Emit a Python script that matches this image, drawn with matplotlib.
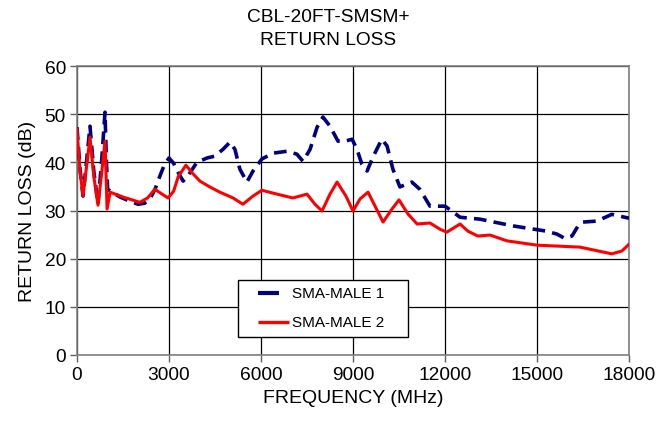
import matplotlib
matplotlib.use("Agg")
import matplotlib.pyplot as plt
from matplotlib.patches import Rectangle
from matplotlib.lines import Line2D

plt.rcParams['font.family'] = ['Liberation Sans', 'DejaVu Sans']

freq1 = [0, 100, 196, 300, 424, 550, 685, 800, 913, 960, 1000, 1400, 1700, 1990, 2200,
         2380, 2550, 2700, 2850, 3000, 3150, 3290, 3460, 3650, 3910, 4240, 4500, 4760,
         4990, 5150, 5310, 5540, 5740, 6030, 6390, 6850, 7170, 7370, 7600, 7830, 8020,
         8250, 8510, 8740, 8970, 9130, 9290, 9460, 9650, 9940, 10110, 10300, 10530,
         10920, 11180, 11510, 12000, 12260, 12490, 13140, 14220, 15320, 15650, 15910,
         16140, 16340, 16500, 16950, 17440, 18000]
rl1 = [47.3, 38.5, 33.0, 39.5, 47.5, 38.0, 31.3, 40.0, 50.4, 40.0, 34.4, 32.8, 32.0, 31.3, 31.5,
       32.4, 34.5, 37.1, 39.5, 40.9, 39.8, 38.0, 36.1, 37.5, 40.0, 40.9, 41.3, 42.7,
       44.2, 42.7, 38.6, 35.9, 38.2, 40.7, 41.9, 42.3, 41.7, 40.2, 42.7, 47.3, 49.4,
       47.5, 44.4, 44.4, 44.8, 42.7, 39.6, 38.2, 41.1, 44.8, 43.4, 38.6, 34.9,
       35.9, 34.4, 30.9, 30.9, 29.7, 28.6, 28.2, 26.8, 25.7, 25.1, 24.2,
       24.7, 26.8, 27.6, 27.8, 29.2, 28.4]

freq2 = [0, 100, 196, 300, 424, 550, 685, 800, 913, 950, 980, 1080, 1500, 2050, 2300,
         2540, 2750, 2970, 3150, 3300, 3550, 3800, 4010, 4300, 4660, 5090, 5410, 5740,
         6030, 6520, 7040, 7500, 7760, 7990, 8250, 8480, 8770, 9000, 9230, 9490, 9720,
         9980, 10270, 10500, 10790, 11090, 11510, 11840, 12060, 12490, 12750, 13070,
         13470, 14020, 15000, 16400, 17440, 17770, 18000]
rl2 = [46.9, 38.0, 33.0, 38.5, 45.2, 37.0, 31.1, 37.5, 44.4, 37.0, 30.3, 33.8, 32.8, 31.7, 32.6,
       34.4, 33.5, 32.6, 34.0, 37.0, 39.4, 37.5, 36.1, 35.0, 33.8, 32.6, 31.3, 33.0,
       34.2, 33.4, 32.6, 33.4, 31.3, 29.9, 33.4, 35.9, 33.0, 29.9, 32.4, 33.8, 30.9,
       27.6, 30.3, 32.2, 29.3, 27.2, 27.4, 26.1, 25.5, 27.2, 25.7, 24.7,
       24.9, 23.7, 22.8, 22.4, 21.0, 21.6, 23.0]

labels = ['SMA-MALE 1', 'SMA-MALE 2']
xticks = [0, 3000, 6000, 9000, 12000, 15000, 18000]
yticks = [0, 10, 20, 30, 40, 50, 60]

W, H = 669, 431
fig = plt.figure(figsize=(W/100, H/100), dpi=100)
ax = fig.add_axes([77/W, 1-356/H, (629-77)/W, (356-67)/H])

blue = '#000080'
red = '#ff0000'
ax.plot(freq1, rl1, color=blue, lw=2.6, linestyle=(0, (3.5, 2.0)),
        label=labels[0], dash_joinstyle='round', dash_capstyle='butt', zorder=3)
ax.plot(freq2, rl2, color=red, lw=2.2, label=labels[1],
        solid_joinstyle='round', zorder=3)

ax.set_xlim(0, 18000)
ax.set_ylim(0, 60)
ax.set_xticks(xticks)
ax.set_yticks(yticks)
ax.set_xticklabels([str(t) for t in xticks], fontsize=13.8)
ax.set_yticklabels([str(t) for t in yticks], fontsize=13.8)
ax.grid(True, color='black', lw=0.9)
ax.set_axisbelow(True)
for s in ax.spines.values():
    s.set_color('#808080')
    s.set_linewidth(1.2)
ax.tick_params(direction='out', length=5, width=1, color='#606060', pad=3)

ax.set_xlabel('FREQUENCY (MHz)', fontsize=14, labelpad=4)
ax.set_ylabel('RETURN LOSS (dB)', fontsize=14, labelpad=6)

fig.text(328/W, 1-17.5/H, 'CBL-20FT-SMSM+', ha='center', va='center', fontsize=13.8)
fig.text(328/W, 1-40.5/H, 'RETURN LOSS', ha='center', va='center', fontsize=13.8)

# legend box (Excel style)
def fx(p):
    return p / W
def fy(p):
    return 1 - p / H

fig.add_artist(Rectangle((fx(238), fy(338)), fx(408) - fx(238), fy(281) - fy(338),
                         transform=fig.transFigure, facecolor='white',
                         edgecolor='black', lw=1.0, zorder=5))
fig.add_artist(Line2D([fx(258), fx(279)], [fy(294), fy(294)], transform=fig.transFigure,
                      color=blue, lw=3.0, zorder=6, solid_capstyle='butt'))
fig.add_artist(Line2D([fx(258), fx(289)], [fy(323), fy(323)], transform=fig.transFigure,
                      color=red, lw=2.4, zorder=6, solid_capstyle='butt'))
fig.text(fx(292), fy(294), labels[0], ha='left', va='center', fontsize=11, zorder=6)
fig.text(fx(292), fy(323), labels[1], ha='left', va='center', fontsize=11, zorder=6)

fig.savefig('out.png', dpi=100)
